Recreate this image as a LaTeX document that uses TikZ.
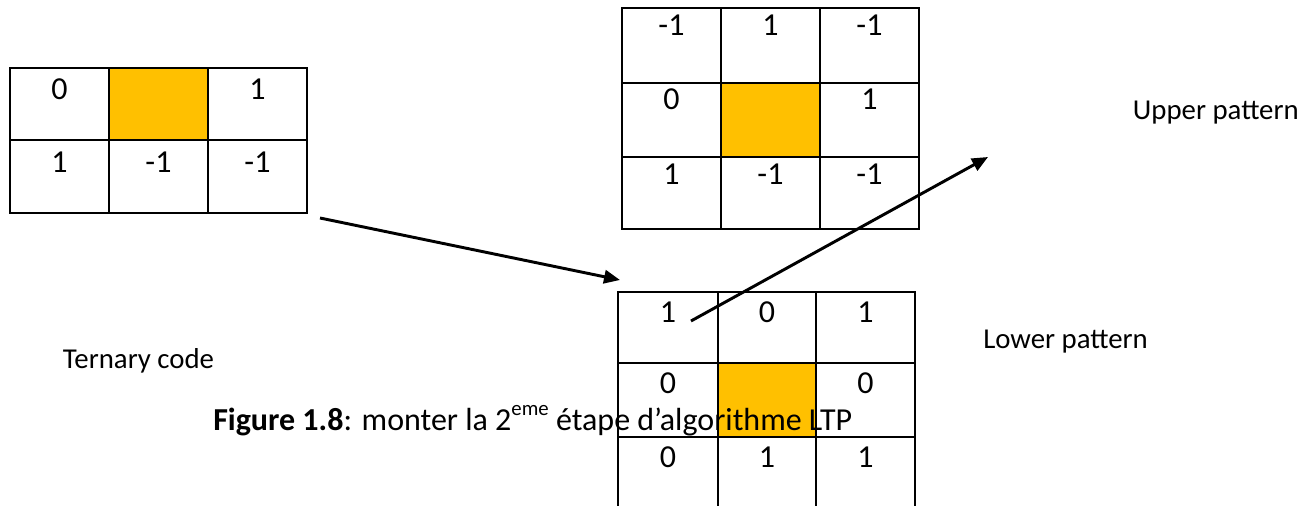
\documentclass[tikz,border=0pt]{standalone}
\usepackage{fontspec}
\setmainfont{Carlito}
\usetikzlibrary{arrows.meta}
\definecolor{cellorange}{HTML}{FFC000}
\begin{document}
\begin{tikzpicture}[x=0.75pt,y=-0.75pt,
  gridline/.style={line width=1.3pt},
  num/.style={anchor=base,inner sep=0pt,font=\fontsize{24}{28}\selectfont},
  lbl/.style={anchor=base west,inner sep=0pt,font=\fontsize{21.6}{26}\selectfont},
  captext/.style={anchor=base west,inner sep=0pt,font=\fontsize{24}{28}\selectfont},
  flow/.style={line width=2.2pt,-{Triangle[length=12pt,width=10pt]}}]
\useasboundingbox (0,0) rectangle (1315,506);
% ---- left grid (ternary code)
\fill[cellorange] (109,68) rectangle (208,140);
\draw[gridline] (10,68) rectangle (307,213) (109,68) -- (109,213) (208,68) -- (208,213) (10,140) -- (307,140);
\node[num] (t11) at (59.5,100) {0};
\node[num] (t13) at (257.5,100) {1};
\node[num] (t21) at (59.5,172.5) {1};
\node[num] (t22) at (158.5,172.5) {-1};
\node[num] (t23) at (257.5,172.5) {-1};
% ---- upper grid
\fill[cellorange] (721,83) rectangle (820,157);
\draw[gridline] (622,8) rectangle (919,229) (721,8) -- (721,229) (820,8) -- (820,229) (622,83) -- (919,83) (622,157) -- (919,157);
\node[num] (u11) at (671.5,36) {-1};
\node[num] (u12) at (770.5,36) {1};
\node[num] (u13) at (869.5,36) {-1};
\node[num] (u21) at (671.5,110) {0};
\node[num] (u23) at (869.5,110) {1};
\node[num] (u31) at (671.5,185) {1};
\node[num] (u32) at (770.5,185) {-1};
\node[num] (u33) at (869.5,185) {-1};
% ---- lower grid
\fill[cellorange] (718,363) rectangle (816,437);
\draw[gridline] (618,292) rectangle (915,515) (718,292) -- (718,515) (816,292) -- (816,515) (618,363) -- (915,363) (618,437) -- (915,437);
\node[num] (l11) at (668,322.7) {1};
\node[num] (l12) at (767,322.7) {0};
\node[num] (l13) at (865.5,322.7) {1};
\node[num] (l21) at (668,393.3) {0};
\node[num] (l23) at (865.5,393.3) {0};
\node[num] (l31) at (668,467.3) {0};
\node[num] (l32) at (767,467.3) {1};
\node[num] (l33) at (865.5,467.3) {1};
% ---- labels
\node[lbl] (upper) at (1132.7,119.3) {Upper pattern};
\node[lbl] (lower) at (983,348.3) {Lower pattern};
\node[lbl] (ternary) at (62.7,368.3) {Ternary code};
% ---- arrows
\coordinate (a1s) at (320,218);
\coordinate (a1e) at (620,280);
\coordinate (a2s) at (691,321);
\coordinate (a2e) at (988,157);
\draw[flow] (a1s) -- (a1e);
\draw[flow] (a2s) -- (a2e);
% ---- caption
\node[captext] (caption) at (213,430) {\textbf{Figure 1.8}: monter la 2\raisebox{11.25pt}{\fontsize{15.6}{16}\selectfont eme} étape d’algorithme LTP};
\end{tikzpicture}
\end{document}
